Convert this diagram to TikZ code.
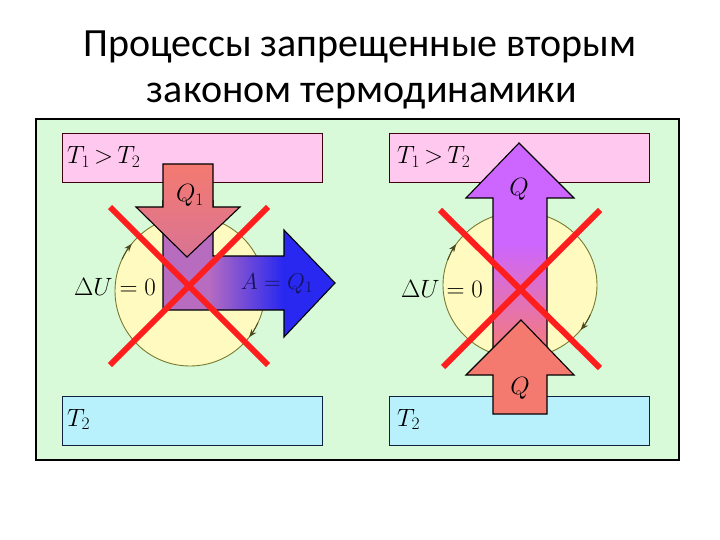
\documentclass[tikz,border=0pt]{standalone}
\usepackage{fix-cm}
\usepackage{fontspec}
\setmainfont{Carlito}
\usetikzlibrary{arrows.meta}
\definecolor{framegreen}{HTML}{D8FAD8}
\definecolor{boxpink}{HTML}{FFC8EE}
\definecolor{boxblue}{HTML}{B8F0FC}
\definecolor{circyellow}{HTML}{FFFBC0}
\definecolor{circline}{HTML}{7A7A30}
\definecolor{salmonc}{HTML}{F47A70}
\definecolor{mauvec}{HTML}{B86CC0}
\definecolor{bluec}{HTML}{2828F0}
\definecolor{purpc}{HTML}{CC66FF}
\definecolor{pinkc}{HTML}{F0788A}
\definecolor{redx}{HTML}{FF1E1E}
\definecolor{navyc}{HTML}{141460}
\definecolor{pinkline}{HTML}{400010}
\definecolor{blueline}{HTML}{102040}
\pgfdeclarehorizontalshading{bentshade}{100bp}{color(0bp)=(mauvec); color(38bp)=(mauvec); color(60bp)=(bluec); color(100bp)=(bluec)}
\pgfdeclareverticalshading{upshade}{100bp}{color(0bp)=(pinkc); color(30bp)=(pinkc); color(52bp)=(purpc); color(100bp)=(purpc)}
\tikzset{
  titletext/.style={font=\fontsize{40}{44}\selectfont, anchor=base, inner sep=0pt},
  lab/.style={font=\fontsize{25}{28}\selectfont, inner sep=0pt},
  hotbox/.style={draw=pinkline, line width=1.3pt, fill=boxpink, minimum width=260pt, minimum height=49pt, anchor=north west, inner sep=0pt},
  coldbox/.style={draw=blueline, line width=1.3pt, fill=boxblue, minimum width=260pt, minimum height=49pt, anchor=north west, inner sep=0pt},
  cyc/.style={draw=circline, line width=0.9pt, fill=circyellow},
  cycarrow/.style={draw=circline!60!black, line width=0.9pt, -{Stealth[length=8pt,width=6pt]}},
  bigarrow/.style={draw=black, line width=1.1pt, line join=miter},
  cross/.style={draw=redx, line width=6pt},
}
\begin{document}
\begin{tikzpicture}[x=1pt,y=-1pt]
\useasboundingbox[fill=white] (0,0) rectangle (720,540);
% title
\node[titletext] (t1) at (360,57) {Процессы запрещенные вторым};
\node[titletext] (t2) at (362,103) {законом термодинамики};
% frame
\node[draw=black, line width=2pt, fill=framegreen, minimum width=643pt, minimum height=341pt, anchor=north west, inner sep=0pt] (frame) at (35,118) {};
% boxes
\node[hotbox] (hotL) at (62,133) {};
\node[coldbox] (coldL) at (62,396) {};
\node[hotbox] (hotR) at (389,133) {};
\node[coldbox] (coldR) at (389,396) {};
% circles
\draw[cyc] (190,291) circle[radius=75];
\draw[cycarrow] (190,291) ++(205:75) arc[start angle=205, end angle=219, radius=75];
\draw[cycarrow] (190,291) ++(25:75) arc[start angle=25, end angle=38, radius=75];
\draw[cyc] (520,285) ellipse[x radius=77, y radius=73];
\draw[cycarrow] (520,285) ++(200:77 and 73) arc[start angle=200, end angle=214, x radius=77, y radius=73];
\draw[cycarrow] (520,285) ++(24:77 and 73) arc[start angle=24, end angle=38, x radius=77, y radius=73];
% Delta U labels
\node[lab, anchor=base] (duL) at (115,295) {$\Delta U=0$};
\node[lab, anchor=base] (duR) at (442,297) {$\Delta U=0$};
% left arrows
\shade[shading=bentshade] (163,200) -- (163,310) -- (284,310) -- (284,337) -- (335,283) -- (284,230) -- (284,256) -- (213,256) -- (213,200) -- cycle;
\draw[bigarrow] (163,200) -- (163,310) -- (284,310) -- (284,337) -- (335,283) -- (284,230) -- (284,256) -- (213,256) -- (213,200);
\shade[top color=salmonc, bottom color=salmonc!55!mauvec] (163,164) -- (213,164) -- (213,207) -- (240,207) -- (187,257) -- (136,207) -- (163,207) -- cycle;
\draw[bigarrow] (163,164) -- (213,164) -- (213,207) -- (240,207) -- (187,257) -- (136,207) -- (163,207) -- cycle;
% right arrows
\shade[shading=upshade] (519,143) -- (574,198) -- (547,198) -- (547,360) -- (493,360) -- (493,198) -- (466,198) -- cycle;
\draw[bigarrow] (519,143) -- (574,198) -- (547,198) -- (547,360) -- (493,360) -- (493,198) -- (466,198) -- cycle;
\draw[bigarrow, fill=salmonc] (521,320) -- (574,375) -- (547,375) -- (547,414) -- (493,414) -- (493,375) -- (466,375) -- cycle;
% labels
\node[lab, anchor=base west] (thL) at (67,164) {$T_1\,{>}\,T_2$};
\node[lab, anchor=base west] (thR) at (397,164) {$T_1\,{>}\,T_2$};
\node[lab, anchor=base west] (tcL) at (67,426) {$T_2$};
\node[lab, anchor=base west] (tcR) at (397,426) {$T_2$};
\node[lab, anchor=base] (q1) at (190,202) {$Q_1$};
\node[lab, anchor=base, text=navyc, font=\fontsize{23}{26}\selectfont] (aq) at (277,289) {$A=Q_1$};
\node[lab, anchor=base] (qu) at (519,196) {$Q$};
\node[lab, anchor=base] (ql) at (520,394) {$Q$};
% red crosses
\draw[cross] (110,207) -- (268,365);
\draw[cross] (268,207) -- (110,365);
\draw[cross] (440,210) -- (600,368);
\draw[cross] (600,210) -- (443,367);
\end{tikzpicture}
\end{document}
